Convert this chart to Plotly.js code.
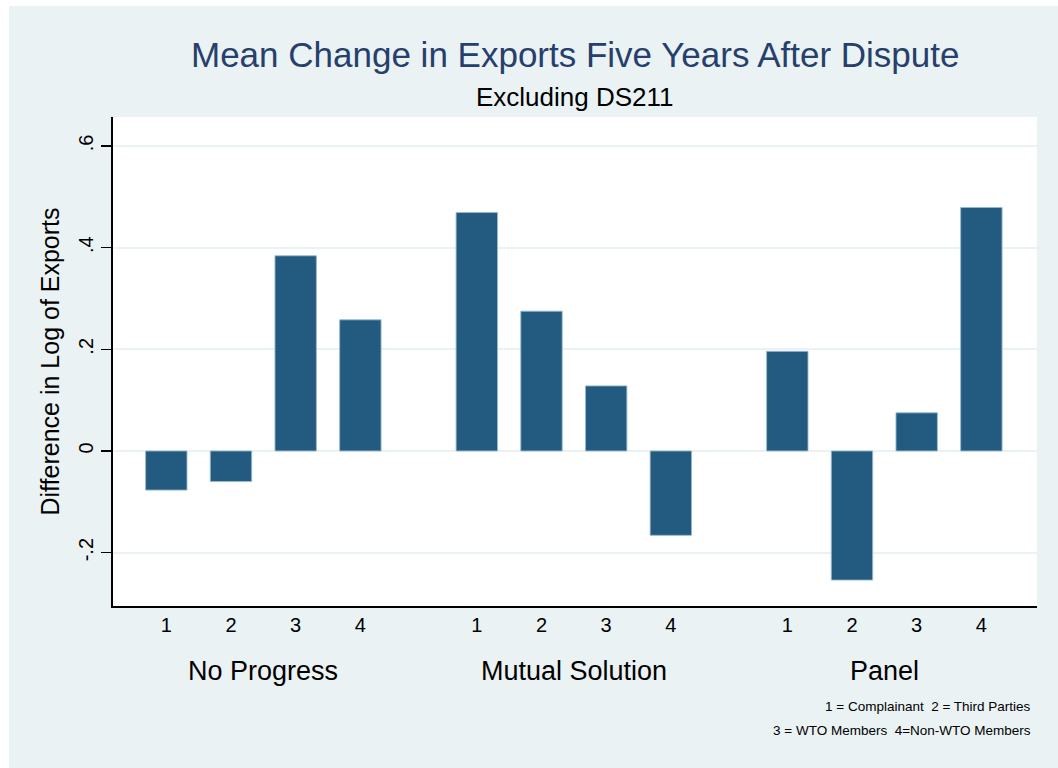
<!DOCTYPE html>
<html>
<head>
<meta charset="utf-8">
<script src="https://cdn.plot.ly/plotly-3.0.1.min.js"></script>
<style>
  html, body { margin: 0; padding: 0; background: #ffffff; }
  #chart { position: absolute; left: 9px; top: 6px; width: 1049px; height: 762px; }
</style>
</head>
<body>
<div id="chart"></div>
<script>
// ---- Data ----
const groups = ['No Progress', 'Mutual Solution', 'Panel'];
const subCategories = ['1', '2', '3', '4'];
const noProgress = [-0.077, -0.060, 0.384, 0.258];
const mutualSolution = [0.469, 0.275, 0.128, -0.166];
const panel = [0.196, -0.254, 0.075, 0.479];
const yTickVals = [-0.2, 0, 0.2, 0.4, 0.6];
const yTickText = ['-.2', '0', '.2', '.4', '.6'];
const titleText = 'Mean Change in Exports Five Years After Dispute';
const subtitleText = 'Excluding DS211';
const yTitleText = 'Difference in Log of Exports';
const noteLine1 = '1 = Complainant  2 = Third Parties';
const noteLine2 = '3 = WTO Members  4=Non-WTO Members';

// ---- Layout helpers ----
const seriesByGroup = [noProgress, mutualSolution, panel];
const groupStride = 4.8;           // slots per group incl. gap
const barColor = '#235A7F';
const font = 'Liberation Sans, Arial, Helvetica, sans-serif';

const xPos = (g, i) => g * groupStride + i;

const traces = seriesByGroup.map((vals, g) => ({
  type: 'bar',
  x: subCategories.map((_, i) => xPos(g, i)),
  y: vals,
  width: 0.64,
  marker: { color: barColor, line: { color: 'rgba(150,185,210,0.9)', width: 1 } },
  showlegend: false,
  hoverinfo: 'skip'
}));

const tickVals = [], tickText = [];
groups.forEach((_, g) => subCategories.forEach((c, i) => { tickVals.push(xPos(g, i)); tickText.push(c); }));

const annotations = [
  { text: titleText, xref: 'paper', yref: 'paper', x: 0.5, y: 1.127, xanchor: 'center', yanchor: 'middle',
    showarrow: false, font: { family: font, size: 35, color: '#263f6c' } },
  { text: subtitleText, xref: 'paper', yref: 'paper', x: 0.5, y: 1.041, xanchor: 'center', yanchor: 'middle',
    showarrow: false, font: { family: font, size: 26, color: '#000000' } },
  { text: noteLine1, xref: 'paper', yref: 'paper', x: 0.9957, y: -0.2045, xanchor: 'right', yanchor: 'middle',
    showarrow: false, font: { family: font, size: 13.5, color: '#000000' } },
  { text: noteLine2, xref: 'paper', yref: 'paper', x: 0.9957, y: -0.2556, xanchor: 'right', yanchor: 'middle',
    showarrow: false, font: { family: font, size: 13.5, color: '#000000' } }
];
groups.forEach((name, g) => {
  annotations.push({
    text: name, xref: 'x', yref: 'paper', x: xPos(g, 1.5), y: -0.133, xanchor: 'center', yanchor: 'middle',
    showarrow: false, font: { family: font, size: 27, color: '#000000' }
  });
});

const layout = {
  width: 1049, height: 762,
  margin: { l: 104, r: 21, t: 111, b: 162, pad: 0 },
  paper_bgcolor: '#EAF2F3',
  plot_bgcolor: '#FFFFFF',
  font: { family: font, color: '#000000' },
  showlegend: false,
  xaxis: {
    range: [-0.824, 13.46],
    tickmode: 'array', tickvals: tickVals, ticktext: tickText,
    ticks: '', showgrid: false, zeroline: false,
    showline: true, linecolor: '#000000', linewidth: 2,
    tickfont: { family: font, size: 20, color: '#000000' },
    fixedrange: true
  },
  yaxis: {
    range: [-0.305, 0.657],
    tickmode: 'array', tickvals: yTickVals, ticktext: yTickText,
    tickangle: -90,
    ticks: 'outside', ticklen: 10, tickwidth: 1.5, tickcolor: '#000000',
    showline: true, linecolor: '#000000', linewidth: 2,
    showgrid: true, gridcolor: '#EAF2F3', gridwidth: 2,
    zeroline: true, zerolinecolor: '#EAF2F3', zerolinewidth: 2,
    tickfont: { family: font, size: 20, color: '#000000' },
    title: { text: yTitleText, font: { family: font, size: 25, color: '#000000' }, standoff: 8 },
    fixedrange: true
  },
  annotations: annotations
};

Plotly.newPlot('chart', traces, layout, { displayModeBar: false, staticPlot: true });
</script>
</body>
</html>
